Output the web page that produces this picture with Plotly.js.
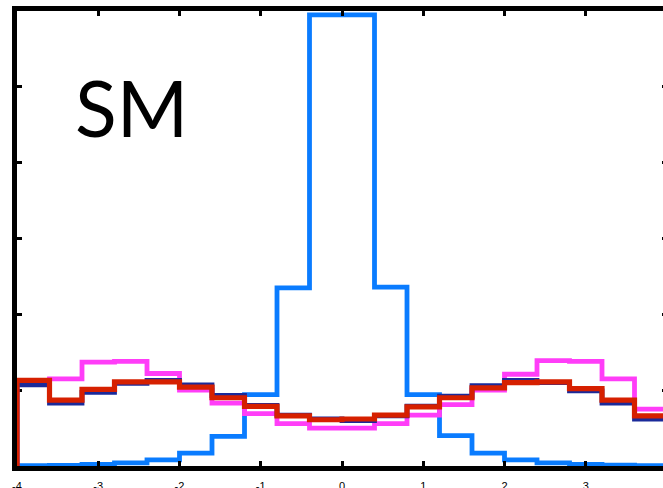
<!DOCTYPE html>
<html>
<head>
<meta charset="utf-8">
<script src="https://cdn.plot.ly/plotly-3.0.1.min.js"></script>
<style>
html, body { margin: 0; padding: 0; overflow: hidden; background: #fff; }
#chart { width: 672px; height: 488px; }
</style>
</head>
<body>
<div id="chart"></div>
<script>
// Histogram bin edges (20 bins of width 0.4)
const binEdges = [-4, -3.6, -3.2, -2.8, -2.4, -2.0, -1.6, -1.2, -0.8, -0.4, 0, 0.4, 0.8, 1.2, 1.6, 2.0, 2.4, 2.8, 3.2, 3.6, 4];

// Bin heights
const lightBlueSeries = [0.005, 0.008, 0.02, 0.04, 0.08, 0.17, 0.39, 0.94, 2.35, 5.95, 5.95, 2.36, 0.94, 0.40, 0.17, 0.08, 0.04, 0.02, 0.01, 0.005];
const magentaSeries  = [1.13, 1.15, 1.37, 1.38, 1.22, 1.00, 0.83, 0.69, 0.56, 0.50, 0.50, 0.56, 0.67, 0.81, 1.00, 1.21, 1.39, 1.38, 1.15, 0.75];
const navySeries     = [1.07, 0.83, 0.97, 1.09, 1.13, 1.07, 0.93, 0.80, 0.67, 0.62, 0.60, 0.66, 0.79, 0.92, 1.06, 1.13, 1.10, 0.99, 0.83, 0.62];
const redSeries      = [1.13, 0.87, 1.01, 1.11, 1.11, 1.04, 0.90, 0.785, 0.66, 0.61, 0.62, 0.67, 0.78, 0.90, 1.03, 1.10, 1.11, 1.02, 0.87, 0.66];

// Tick labels
const xTickVals = [-4, -3, -2, -1, 0, 1, 2, 3, 4];
const xTickText = ["-4", "-3", "-2", "-1", "0", "1", "2", "3", "4"];
const yTickVals = [0, 1, 2, 3, 4, 5, 6];
const panelLabel = "SM";

function stairs(values, color, width) {
  const x = [binEdges[0]].concat(binEdges.slice(0, binEdges.length - 1), [binEdges[binEdges.length - 1]]);
  const y = [0].concat(values, [0]);
  return {
    type: 'scatter', mode: 'lines', x: x, y: y,
    line: { shape: 'hv', color: color, width: width },
    hoverinfo: 'skip', showlegend: false
  };
}

const data = [
  stairs(lightBlueSeries, '#0A7CFF', 4.8),
  stairs(magentaSeries, '#FF3DF8', 4.8),
  stairs(navySeries, '#1A2A9A', 4.8),
  stairs(redSeries, '#D62000', 5.2)
];

const layout = {
  width: 672, height: 488,
  margin: { l: 17, r: 5, t: 11, b: 22, pad: 0 },
  paper_bgcolor: '#fff', plot_bgcolor: '#fff',
  showlegend: false,
  xaxis: {
    range: [-4, 4], showgrid: false, zeroline: false,
    showline: true, linecolor: '#000', linewidth: 5, mirror: 'ticks',
    ticks: 'inside', ticklen: 5, tickwidth: 3, tickcolor: '#000',
    tickmode: 'array', tickvals: xTickVals, ticktext: xTickText,
    ticklabelstandoff: 6,
    tickfont: { family: 'Liberation Sans, Arial, sans-serif', size: 11, color: '#000' },
    layer: 'above traces'
  },
  yaxis: {
    range: [0, 6], showgrid: false, zeroline: false,
    showline: true, linecolor: '#000', linewidth: 5, mirror: 'ticks',
    ticks: 'inside', ticklen: 5, tickwidth: 3, tickcolor: '#000',
    tickmode: 'array', tickvals: yTickVals, showticklabels: false,
    layer: 'below traces'
  },
  annotations: [{
    text: panelLabel, xref: 'paper', yref: 'paper',
    x: 0.086, y: 0.79, xanchor: 'left', yanchor: 'middle',
    showarrow: false,
    font: { family: 'Lato, Open Sans, sans-serif', size: 77, color: '#000' }
  }]
};

Plotly.newPlot('chart', data, layout, { staticPlot: true, displayModeBar: false });
</script>
</body>
</html>
